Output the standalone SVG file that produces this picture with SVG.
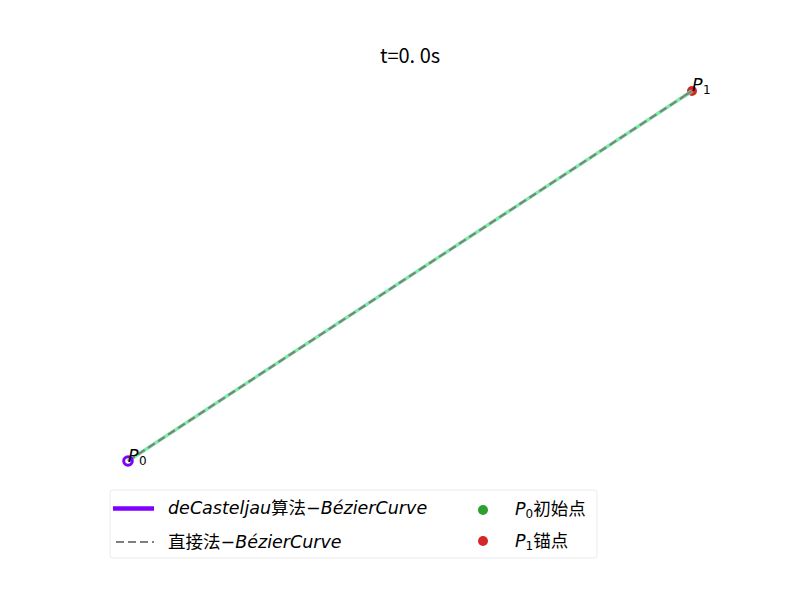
<svg xmlns="http://www.w3.org/2000/svg" width="800" height="600" viewBox="0 0 800 600">
<style>
.t{font-family:"DejaVu Sans","Noto Sans CJK SC",sans-serif;font-size:17.5px;fill:#000}
.it{font-style:italic}
.sub{font-size:12px}
.dash{stroke:#808080;stroke-width:2.2;stroke-dasharray:8 4;fill:none}
.grn{stroke:#78f0a8;stroke-width:3.4;fill:none}
</style>
<rect width="800" height="600" fill="#fff"/>
<text x="410" y="63" text-anchor="middle" style="font-family:'Noto Sans CJK SC',sans-serif;font-size:20px">t=0. 0s</text>
<g id="connectors">
<line x1="128" y1="461" x2="692" y2="91" class="grn"/>
<line x1="128" y1="461" x2="692" y2="91" class="dash"/>
</g>
<g id="P0">
<circle cx="128" cy="461" r="4.3" fill="none" stroke="#8000ff" stroke-width="3"/>
<text x="128" y="462" class="t it">P</text>
<text x="139" y="465" class="t sub">0</text>
</g>
<g id="P1">
<circle cx="692" cy="91" r="5" fill="#d62728"/>
<line x1="684" y1="96.2" x2="692" y2="91" class="grn"/>
<line x1="684" y1="96.2" x2="692" y2="91" stroke="#808080" stroke-width="2.2"/>
<text x="692" y="91" class="t it">P</text>
<text x="703" y="94" class="t sub">1</text>
</g>
<g id="legend">
<rect x="110" y="490" width="487" height="68" rx="3" fill="#fff" fill-opacity="0.8" stroke="#ebebeb"/>
<line x1="113" y1="508.5" x2="154" y2="508.5" stroke="#8000ff" stroke-width="4.5"/>
<text x="168" y="514" class="t"><tspan class="it">deCasteljau</tspan>算法−<tspan class="it">BézierCurve</tspan></text>
<line x1="116" y1="542" x2="154" y2="542" class="dash"/>
<text x="168" y="548" class="t">直接法−<tspan class="it">BézierCurve</tspan></text>
<circle cx="483" cy="510" r="5" fill="#2ca02c"/>
<text x="515" y="515" class="t"><tspan class="it">P</tspan><tspan class="sub" dy="3">0</tspan><tspan dy="-3">初始点</tspan></text>
<circle cx="483" cy="541" r="5" fill="#d62728"/>
<text x="515" y="547" class="t"><tspan class="it">P</tspan><tspan class="sub" dy="3">1</tspan><tspan dy="-3">锚点</tspan></text>
</g>
</svg>
